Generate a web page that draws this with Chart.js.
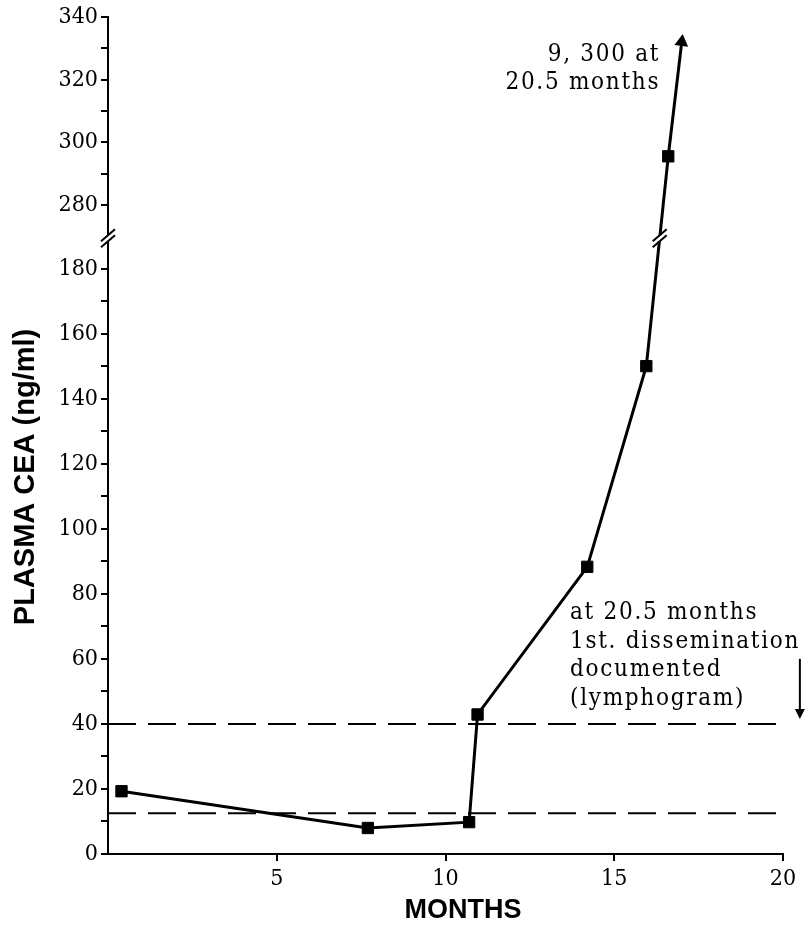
<!DOCTYPE html>
<html>
<head>
<meta charset="utf-8">
<script src="https://cdn.jsdelivr.net/npm/chart.js@4.4.1/dist/chart.umd.min.js"></script>
<style>
  html, body { margin: 0; padding: 0; background: #ffffff; }
  #wrap { width: 810px; height: 926px; }
</style>
</head>
<body>
<div id="wrap"><canvas id="c" width="810" height="926"></canvas></div>
<script>
// ---- data ----
const months = [0.4, 7.7, 10.7, 10.95, 14.2, 15.95, 16.6];
const ceaValues = [19.3, 8.0, 9.8, 42.9, 88.3, 150, 295.6];
// line continues off-scale (arrow) toward 9,300 at 20.5 months
const arrowMonth = [16.6, 17.0];
const arrowCEA = [295.6, 332];
// dashed reference levels
const refLevels = [40, 12.5];
const refMonths = [0, 19.8];
// axis ticks
const xTickValues = [5, 10, 15, 20];
const yTicksLower = [0, 10, 20, 30, 40, 50, 60, 70, 80, 90, 100, 110, 120, 130, 140, 150, 160, 170, 180];
const yTicksUpper = [280, 290, 300, 310, 320, 330, 340];
// broken axis: lower part ends, upper part starts
const lowerBreak = 189.3;
const upperBreak = 269.5;
const upperScale = 0.966;
const yTop = 340;
// texts
const yTitle = 'PLASMA CEA (ng/ml)';
const xTitle = 'MONTHS';
const noteTop = ['9, 300 at', '20.5 months'];
const noteTopAt = [16.36, 327.9];
const noteBottom = ['at 20.5 months', '1st. dissemination', 'documented', '(lymphogram)'];
const noteBottomAt = [13.69, 74.2];
const disseminationMonth = 20.5;
const disseminationArrow = [60, 41.5];

// ---- broken-axis mapping ----
function toAxis(v) { return v <= lowerBreak ? v : lowerBreak + (v - upperBreak) * upperScale; }
function fromAxis(a) { return a <= lowerBreak + 1e-6 ? a : upperBreak + (a - lowerBreak) / upperScale; }

const serif = '"DejaVu Serif Condensed", "DejaVu Serif", serif';
const sans = '"Liberation Sans", Arial, sans-serif';

const mainData = months.map((m, i) => ({ x: m, y: toAxis(ceaValues[i]) }));
const arrowData = arrowMonth.map((m, i) => ({ x: m, y: toAxis(arrowCEA[i]) }));

const refDatasets = refLevels.map(lv => ({
  data: refMonths.map(m => ({ x: m, y: lv })),
  borderColor: '#000', borderWidth: 2, borderDash: [28, 12],
  pointRadius: 0, fill: false, tension: 0
}));

function slashPair(ctx, x, y) {
  ctx.save();
  ctx.fillStyle = '#fff';
  ctx.fillRect(x - 4, y - 3, 8, 6);
  ctx.strokeStyle = '#000';
  ctx.lineWidth = 2;
  [-3, 3].forEach(d => {
    ctx.beginPath();
    ctx.moveTo(x - 7, y + d + 6);
    ctx.lineTo(x + 7, y + d - 6);
    ctx.stroke();
  });
  ctx.restore();
}

const decor = {
  id: 'decor',
  afterDraw(chart) {
    const ctx = chart.ctx;
    const xs = chart.scales.x, ys = chart.scales.y;
    // break on y axis
    const yb = ys.getPixelForValue(lowerBreak);
    slashPair(ctx, xs.left, yb);
    // break on the data line
    const p1 = chart.getDatasetMeta(0).data[5], p2 = chart.getDatasetMeta(0).data[6];
    const t = (yb - p1.y) / (p2.y - p1.y);
    slashPair(ctx, p1.x + t * (p2.x - p1.x), yb);

    ctx.save();
    ctx.fillStyle = '#000';
    ctx.strokeStyle = '#000';
    // annotations
    ctx.font = '24px ' + serif;
    try { ctx.letterSpacing = '1.7px'; } catch (e) {}
    ctx.textBaseline = 'middle';
    ctx.textAlign = 'right';
    let ax = xs.getPixelForValue(noteTopAt[0]);
    let ay = ys.getPixelForValue(toAxis(noteTopAt[1]));
    noteTop.forEach((s, i) => ctx.fillText(s, ax, ay + i * 28));
    ctx.textAlign = 'left';
    ax = xs.getPixelForValue(noteBottomAt[0]);
    ay = ys.getPixelForValue(noteBottomAt[1]);
    noteBottom.forEach((s, i) => ctx.fillText(s, ax, ay + i * 28.7));
    try { ctx.letterSpacing = '0px'; } catch (e) {}
    // down arrow at dissemination
    const dx = xs.getPixelForValue(disseminationMonth);
    const d1 = ys.getPixelForValue(disseminationArrow[0]);
    const d2 = ys.getPixelForValue(disseminationArrow[1]);
    ctx.lineWidth = 2;
    ctx.beginPath(); ctx.moveTo(dx, d1); ctx.lineTo(dx, d2 - 8); ctx.stroke();
    ctx.beginPath(); ctx.moveTo(dx - 5, d2 - 10); ctx.lineTo(dx + 5, d2 - 10); ctx.lineTo(dx, d2); ctx.closePath(); ctx.fill();
    // axis titles
    ctx.font = 'bold 27px ' + sans;
    ctx.textAlign = 'center';
    ctx.fillText(xTitle, 463, 911);
    ctx.save();
    ctx.translate(26, 477);
    ctx.rotate(-Math.PI / 2);
    ctx.font = 'bold 29px ' + sans;
    ctx.fillText(yTitle, 0, 0);
    ctx.restore();
    ctx.restore();
  }
};

new Chart(document.getElementById('c'), {
  type: 'line',
  data: {
    datasets: [
      {
        data: mainData,
        borderColor: '#000', borderWidth: 3,
        pointStyle: 'rect', pointRadius: 8, pointBorderWidth: 1,
        pointBackgroundColor: '#000', pointBorderColor: '#000',
        fill: false, tension: 0
      },
      {
        data: arrowData,
        borderColor: '#000', borderWidth: 3,
        pointStyle: 'triangle', pointRadius: [0, 5], pointRotation: 7,
        pointBackgroundColor: '#000', pointBorderColor: '#000',
        fill: false, tension: 0
      },
      ...refDatasets
    ]
  },
  options: {
    responsive: false,
    animation: false,
    events: [],
    layout: { padding: { top: 15, right: 27, bottom: 0, left: 0 } },
    plugins: { legend: { display: false }, tooltip: { enabled: false } },
    scales: {
      x: {
        type: 'linear', min: 0, max: 20,
        afterBuildTicks(s) { s.ticks = xTickValues.map(v => ({ value: v })); },
        afterFit(s) { s.height = 72; },
        ticks: { color: '#000', font: { family: serif, size: 23 }, padding: 4, maxRotation: 0, autoSkip: false },
        grid: { drawOnChartArea: false, drawTicks: true, tickLength: 7, color: '#000', lineWidth: 2 },
        border: { display: true, color: '#000', width: 2 }
      },
      y: {
        type: 'linear', min: 0, max: toAxis(yTop),
        afterBuildTicks(s) { s.ticks = yTicksLower.concat(yTicksUpper).map(v => ({ value: toAxis(v) })); },
        afterFit(s) { s.width = 108; },
        ticks: {
          color: '#000', font: { family: serif, size: 23 }, padding: 3, autoSkip: false,
          callback(v) { const r = Math.round(fromAxis(v)); return r % 20 === 0 ? String(r) : ''; }
        },
        grid: { drawOnChartArea: false, drawTicks: true, tickLength: 7, color: '#000', lineWidth: 2 },
        border: { display: true, color: '#000', width: 2 }
      }
    }
  },
  plugins: [decor]
});
</script>
</body>
</html>
